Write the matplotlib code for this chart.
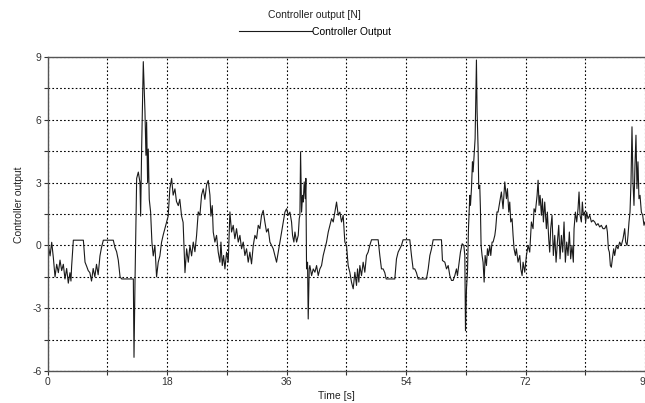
import numpy as np
import matplotlib.pyplot as plt

# controller output, (time [s], output [N])
time_s = [
    0.0, 0.1, 0.35, 0.6, 0.85, 1.1, 1.35, 1.6, 1.85, 2.1, 2.35, 2.6, 2.85, 3.1, 3.35, 3.5,
    3.6, 3.75, 3.86, 5.37, 5.62, 5.87, 6.1, 6.35, 6.6, 6.85, 7.1, 7.35, 7.6, 7.75, 7.87, 8.1,
    8.38, 9.88, 10.13, 10.38, 10.5, 10.63, 10.9, 11.14, 12.9, 13.0, 13.15, 13.4, 13.65, 13.9,
    14.0, 14.15, 14.4, 14.65, 14.8, 14.9, 15.05, 15.15, 15.3, 15.5, 15.7, 15.9, 16.15, 16.4,
    16.65, 16.9, 17.15, 17.4, 17.65, 17.9, 18.15, 18.4, 18.67, 18.9, 19.17, 19.4, 19.67, 19.9,
    20.17, 20.4, 20.68, 20.93, 21.18, 21.43, 21.68, 21.93, 22.18, 22.43, 22.68, 22.93, 23.18,
    23.43, 23.68, 23.94, 24.19, 24.44, 24.59, 24.79, 24.94, 25.19, 25.44, 25.69, 25.95, 26.1,
    26.3, 26.5, 26.7, 26.95, 27.2, 27.45, 27.7, 27.95, 28.2, 28.45, 28.71, 28.96, 29.21, 29.46,
    29.71, 29.96, 30.21, 30.46, 30.71, 30.97, 31.22, 31.47, 31.72, 31.97, 32.22, 32.47, 32.72,
    32.97, 33.22, 33.48, 33.73, 33.98, 34.23, 34.48, 34.74, 34.99, 35.24, 35.49, 35.74, 35.99,
    36.24, 36.49, 36.74, 36.89, 37.09, 37.25, 37.5, 37.75, 37.9, 38.0, 38.1, 38.25, 38.4, 38.5,
    38.65, 38.8, 38.9, 39.0, 39.15, 39.25, 39.4, 39.5, 39.76, 40.01, 40.26, 40.51, 40.76, 41.01,
    41.26, 41.51, 41.76, 42.01, 42.27, 42.52, 42.77, 43.02, 43.27, 43.52, 43.77, 44.02, 44.27,
    44.52, 44.77, 45.02, 45.27, 45.52, 45.77, 46.03, 46.28, 46.53, 46.68, 46.88, 47.03, 47.28,
    47.53, 47.78, 48.03, 48.28, 48.53, 48.79, 49.79, 50.04, 50.29, 50.54, 50.79, 51.0, 52.3,
    52.55, 52.8, 53.05, 53.3, 53.55, 54.56, 54.81, 55.06, 55.31, 55.56, 55.81, 57.07, 57.33,
    57.58, 57.83, 58.08, 59.33, 59.48, 59.84, 60.09, 60.34, 60.59, 60.84, 61.09, 61.34, 61.59,
    61.74, 61.99, 62.19, 62.45, 62.7, 62.85, 62.95, 63.1, 63.25, 63.4, 63.6, 63.7, 63.85, 64.0,
    64.1, 64.25, 64.4, 64.6, 64.7, 64.85, 64.95, 65.1, 65.2, 65.3, 65.45, 65.6, 65.76, 65.91,
    66.11, 66.26, 66.41, 66.61, 66.76, 66.96, 67.11, 67.37, 67.5, 67.7, 67.86, 68.11, 68.36,
    68.61, 68.87, 69.12, 69.27, 69.47, 69.62, 69.77, 69.97, 70.12, 70.27, 70.47, 70.62, 70.87,
    71.13, 71.28, 71.48, 71.63, 71.88, 72.13, 72.38, 72.63, 72.88, 73.13, 73.28, 73.48, 73.74,
    73.89, 74.04, 74.19, 74.39, 74.54, 74.69, 74.89, 75.14, 75.29, 75.49, 75.64, 75.79, 75.99,
    76.19, 76.4, 76.6, 76.8, 77.0, 77.2, 77.4, 77.6, 77.8, 78.0, 78.2, 78.4, 78.6, 78.8, 79.0,
    79.2, 79.31, 79.51, 79.71, 79.91, 80.06, 80.21, 80.41, 80.56, 80.71, 80.91, 81.06, 81.21,
    81.41, 81.67, 81.92, 82.17, 82.42, 82.67, 82.92, 83.17, 83.42, 83.67, 83.92, 84.18, 84.33,
    84.48, 84.63, 84.78, 84.93, 85.08, 85.28, 85.43, 85.68, 85.93, 86.18, 86.43, 86.69, 86.94,
    87.09, 87.29, 87.44, 87.59, 87.74, 87.89, 88.04, 88.19, 88.34, 88.49, 88.64, 88.79, 88.94,
    89.09, 89.25, 89.45, 89.65, 89.85, 90.0,
]
output_n = [
    -0.2, 0.0, -0.5, 0.15, -0.6, -1.5, -0.9, -1.3, -0.7, -1.2, -0.9, -1.6, -1.1, -1.8, -1.3, -1.7,
    -1.0, -0.3, 0.25, 0.25, -0.8, -1.0, -1.2, -1.3, -1.7, -1.1, -1.5, -0.9, -1.4, -0.9, -0.5, -0.1,
    0.25, 0.25, -0.1, -0.3, -0.5, -0.7, -1.5, -1.6, -1.6, -5.34, -1.75, 3.2, 3.5, 3.0,
    1.4, 4.6, 8.77, 6.4, 4.3, 5.9, 3.0, 4.6, 2.2, 1.6, 0.15, -0.5, 0.0, -1.5,
    -0.8, -0.5, 0.15, 0.5, 0.8, 1.1, 1.4, 2.7, 3.2, 2.4, 2.7, 2.1, 1.9, 2.2,
    1.4, 1.1, -1.3, -0.16, -0.8, 0.0, -0.5, 0.16, -0.3, 0.48, 1.6, 1.44, 2.4,
    2.7, 2.2, 2.9, 3.1, 2.4, 1.4, 1.9, 0.64, 0.16, 0.48, -0.32, -0.8, 0.16,
    -0.96, -0.48, -1.12, -0.32, -0.8, 1.6, 0.64, 0.96, 0.32, 0.8, 0.16, 0.48, -0.16, 0.16,
    -0.48, -0.16, -0.8, -0.32, -0.88, 0.0, 0.48, 0.32, 0.96, 0.8, 1.44, 1.67, 1.12,
    0.64, 0.8, 0.16, 0.0, -0.16, -0.48, -0.8, -0.32, 0.16, 0.64, 1.12, 1.59, 1.75,
    1.44, 1.59, 1.12, 0.48, 0.16, 0.64, 0.16, 0.48, 1.28, 1.44, 4.47, 1.59, 2.39, 2.07,
    3.03, 2.23, 3.2, -1.12, -0.8, -3.51, -1.12, -0.96, -1.44, -1.12, -1.28, -0.96, -1.44, -1.12,
    -0.96, -0.48, -0.16, 0.16, 0.64, 0.96, 1.28, 1.12, 1.59, 2.07, 1.44, 1.59, 1.12,
    1.44, 0.16, 0.0, -0.96, -1.28, -1.75, -2.07, -1.28, -1.91, -1.12, -1.75, -0.96, -1.44,
    -0.8, -1.28, -0.48, -0.32, 0.0, 0.27, 0.27, -0.48, -1.12, -1.12, -1.3, -1.6, -1.6,
    -0.64, -0.32, -0.16, 0.0, 0.27, 0.27, -0.48, -1.12, -1.12, -1.3, -1.6, -1.6, -1.12,
    -0.48, -0.16, 0.27, 0.27, -0.72, -0.8, -1.12, -0.96, -1.44, -1.67, -1.67, -1.44, -1.12,
    -1.44, -0.8, -0.32, 0.08, 0.0, -0.48, -4.07, -2.07, -1.28, 0.8, 2.39, 1.91, 2.71, 3.99,
    3.51, 4.31, 5.1, 8.85, 6.38, 4.63, 2.71, 2.87, 1.75, 0.0, -0.48, -0.8, -1.75, -0.48,
    -0.96, -0.16, -0.48, 0.0, -0.48, 0.16, 0.16, 0.48, 0.8, 1.6, 1.59, 2.07, 2.55,
    1.75, 3.03, 2.23, 2.71, 1.59, 2.07, 1.12, 1.28, 0.48, -0.16, -0.48, -0.16, -0.8,
    -0.48, -1.12, -1.44, -0.8, -1.28, -0.48, 0.0, -0.32, 1.12, 0.8, 1.75, 1.59, 2.39,
    3.11, 1.91, 2.39, 1.44, 2.23, 1.12, 2.07, 0.8, 1.59, 0.32, -0.32, 0.8, 1.44,
    -0.48, 0.48, -0.8, 0.16, 0.96, -0.64, 0.48, -0.32, 1.12, -0.8, 0.16, -0.48, 0.64, -0.64, 0.0,
    -0.8, 0.8, 1.59, 1.12, 1.75, 2.55, 1.44, 1.12, 2.07, 1.44, 1.59, 1.12, 1.59,
    1.28, 1.44, 1.12, 1.2, 1.12, 0.96, 1.04, 0.88, 0.96, 0.8, 0.8, 0.96, 0.64,
    -0.16, -0.32, -0.96, -1.04, -0.64, -0.16, -0.48, 0.0, -0.16, 0.16, 0.0, 0.32, 0.8,
    0.16, 0.0, 0.48, 1.12, 1.59, 3.03, 5.66, 3.03, 1.91, 3.83, 5.26, 2.71, 3.99,
    2.23, 2.39, 1.59, 1.44, 0.96, 1.12,
]

x_ticks = np.arange(0, 91, 9)
x_labels = ['0', '', '18', '', '36', '', '54', '', '72', '', '90']
y_ticks = np.arange(-6, 9.1, 1.5)
y_labels = ['-6', '', '-3', '', '0', '', '3', '', '6', '', '9']

font = ['Liberation Sans Narrow', 'Liberation Sans', 'DejaVu Sans']
plt.rcParams['font.family'] = font
plt.rcParams['font.size'] = 7.5

fig = plt.figure(figsize=(6.45, 4.03), dpi=100)
ax = fig.add_axes([0.074, 0.079, 0.926, 0.780])

ax.plot(time_s, output_n, color='#1a1a1a', linewidth=0.8, label='Controller Output')

ax.set_xlim(0, 90)
ax.set_ylim(-6, 9)
ax.set_xticks(x_ticks)
ax.set_xticklabels(x_labels)
ax.set_yticks(y_ticks)
ax.set_yticklabels(y_labels)
ax.tick_params(direction='out', length=3, width=0.8, colors='#333333', pad=1.5)
ax.grid(True, color='black', linestyle=(0, (1.5, 2)), linewidth=0.8)
for side in ['left', 'top', 'bottom']:
    ax.spines[side].set_color('#555555')
    ax.spines[side].set_linewidth(1.0)
ax.spines['right'].set_visible(False)

ax.set_xlabel('Time [s]', color='#222222')
ax.xaxis.set_label_coords(0.483, -0.062)
ax.set_ylabel('Controller output', color='#222222')
ax.yaxis.set_label_coords(-0.040, 0.53)

fig.text(0.488, 0.962, 'Controller output [N]', ha='center', va='center', color='#222222')
fig.legend(loc='center', bbox_to_anchor=(0.488, 0.921), frameon=False,
           handlelength=7.0, handletextpad=0.0, fontsize=7.5)

plt.savefig('out.png', dpi=100)
